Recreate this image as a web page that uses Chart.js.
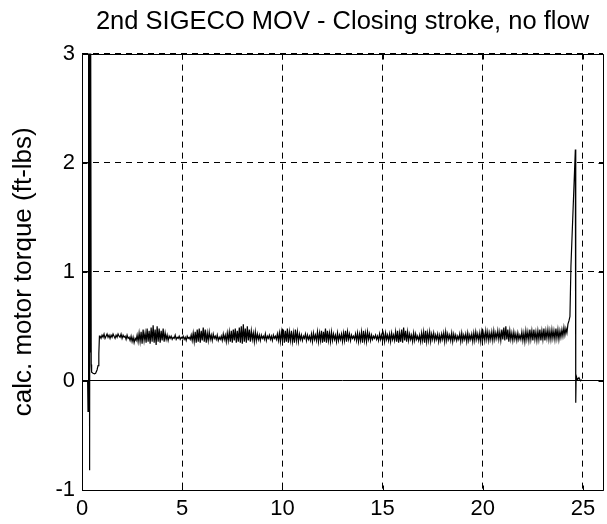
<!DOCTYPE html>
<html>
<head>
<meta charset="utf-8">
<script src="https://cdn.jsdelivr.net/npm/chart.js@4/dist/chart.umd.min.js"></script>
<style>
    html, body { margin: 0; padding: 0; background: #fff; }
    #wrap { width: 607px; height: 524px; }
</style>
</head>
<body>
<div id="wrap"><canvas id="torque" width="607" height="524"></canvas></div>
<script>
// ───── DATA ─────
const TITULO  = "2nd SIGECO MOV - Closing stroke, no flow";
const Y_LABEL = "calc. motor torque (ft-lbs)";
const X_TICKS = [0, 5, 10, 15, 20, 25];
const Y_TICKS = [-1, 0, 1, 2, 3];

// start-up transient (x in s, torque in ft-lbs; 3.6 = runs off the top)
const inicioX = [0.00, 0.28, 0.30, 0.32, 0.34, 0.36, 0.38, 0.40, 0.42, 0.44, 0.46, 0.48, 0.55, 0.62, 0.68, 0.75, 0.80, 0.84, 0.87];
const inicioY = [0.00, 0.00, -0.28, 3.6, -0.10, 3.6, -0.82, 3.6, 0.26, 3.6, 0.15, 0.08, 0.07, 0.065, 0.07, 0.10, 0.14, 0.25, 0.41];

// running load, sampled every 0.05 s from 0.9 s to 24.3 s (one row = 0.5 s)
const corridaX0   = 0.9;
const corridaPaso = 0.05;
const corridaY = [
    0.41, 0.39, 0.42, 0.40, 0.43, 0.39, 0.41, 0.43, 0.40, 0.42,   // 0.9
    0.39, 0.42, 0.40, 0.43, 0.41, 0.39, 0.42, 0.40, 0.43, 0.41,   // 1.4
    0.40, 0.43, 0.39, 0.42, 0.40, 0.41, 0.38, 0.42, 0.39, 0.40,   // 1.9
    0.37, 0.41, 0.36, 0.40, 0.35, 0.39, 0.37, 0.42, 0.36, 0.44,   // 2.4
    0.36, 0.45, 0.34, 0.47, 0.37, 0.44, 0.35, 0.48, 0.36, 0.46,   // 2.9
    0.34, 0.49, 0.36, 0.51, 0.35, 0.47, 0.33, 0.50, 0.36, 0.48,   // 3.4
    0.35, 0.46, 0.37, 0.48, 0.36, 0.44, 0.38, 0.42, 0.37, 0.41,   // 3.9
    0.39, 0.41, 0.38, 0.40, 0.39, 0.42, 0.38, 0.40, 0.39, 0.41,   // 4.4
    0.38, 0.40, 0.39, 0.41, 0.38, 0.40, 0.37, 0.41, 0.39, 0.40,   // 4.9
    0.38, 0.42, 0.37, 0.44, 0.36, 0.45, 0.35, 0.47, 0.36, 0.48,   // 5.4
    0.35, 0.46, 0.37, 0.49, 0.36, 0.47, 0.35, 0.44, 0.37, 0.45,   // 5.9
    0.38, 0.42, 0.37, 0.43, 0.39, 0.41, 0.38, 0.42, 0.37, 0.40,   // 6.4
    0.38, 0.41, 0.37, 0.43, 0.38, 0.42, 0.36, 0.44, 0.37, 0.45,   // 6.9
    0.36, 0.46, 0.35, 0.47, 0.37, 0.48, 0.35, 0.46, 0.36, 0.49,   // 7.4
    0.35, 0.50, 0.34, 0.52, 0.36, 0.48, 0.35, 0.50, 0.37, 0.47,   // 7.9
    0.36, 0.46, 0.38, 0.44, 0.36, 0.45, 0.37, 0.43, 0.38, 0.42,   // 8.4
    0.37, 0.42, 0.39, 0.41, 0.38, 0.43, 0.37, 0.41, 0.39, 0.42,   // 8.9
    0.38, 0.41, 0.37, 0.42, 0.39, 0.41, 0.38, 0.43, 0.37, 0.44,   // 9.4
    0.36, 0.45, 0.37, 0.47, 0.35, 0.46, 0.36, 0.48, 0.35, 0.45,   // 9.9
    0.37, 0.46, 0.36, 0.44, 0.35, 0.47, 0.37, 0.45, 0.36, 0.43,   // 10.4
    0.38, 0.42, 0.37, 0.41, 0.39, 0.43, 0.37, 0.42, 0.38, 0.41,   // 10.9
    0.37, 0.43, 0.36, 0.44, 0.38, 0.42, 0.37, 0.45, 0.36, 0.44,   // 11.4
    0.37, 0.46, 0.35, 0.45, 0.36, 0.48, 0.35, 0.46, 0.37, 0.44,   // 11.9
    0.36, 0.45, 0.37, 0.43, 0.38, 0.42, 0.36, 0.44, 0.37, 0.42,   // 12.4
    0.38, 0.43, 0.36, 0.44, 0.37, 0.46, 0.36, 0.45, 0.38, 0.43,   // 12.9
    0.37, 0.42, 0.39, 0.41, 0.38, 0.43, 0.37, 0.44, 0.36, 0.43,   // 13.4
    0.37, 0.45, 0.35, 0.46, 0.37, 0.44, 0.36, 0.45, 0.38, 0.43,   // 13.9
    0.37, 0.42, 0.38, 0.41, 0.39, 0.42, 0.38, 0.41, 0.37, 0.43,   // 14.4
    0.38, 0.42, 0.37, 0.43, 0.36, 0.44, 0.38, 0.42, 0.37, 0.43,   // 14.9
    0.36, 0.44, 0.38, 0.42, 0.37, 0.45, 0.36, 0.46, 0.35, 0.44,   // 15.4
    0.36, 0.47, 0.35, 0.49, 0.37, 0.46, 0.36, 0.45, 0.37, 0.43,   // 15.9
    0.38, 0.42, 0.36, 0.44, 0.37, 0.43, 0.38, 0.41, 0.37, 0.42,   // 16.4
    0.36, 0.44, 0.37, 0.45, 0.35, 0.46, 0.36, 0.44, 0.37, 0.45,   // 16.9
    0.36, 0.43, 0.38, 0.44, 0.37, 0.42, 0.38, 0.43, 0.36, 0.42,   // 17.4
    0.37, 0.43, 0.38, 0.44, 0.36, 0.45, 0.37, 0.43, 0.38, 0.42,   // 17.9
    0.37, 0.44, 0.36, 0.43, 0.38, 0.42, 0.37, 0.41, 0.38, 0.43,   // 18.4
    0.36, 0.44, 0.37, 0.42, 0.38, 0.43, 0.36, 0.44, 0.37, 0.42,   // 18.9
    0.38, 0.43, 0.36, 0.44, 0.37, 0.45, 0.38, 0.43, 0.37, 0.44,   // 19.4
    0.36, 0.45, 0.38, 0.44, 0.37, 0.46, 0.38, 0.45, 0.37, 0.44,   // 19.9
    0.38, 0.45, 0.37, 0.46, 0.38, 0.44, 0.39, 0.46, 0.38, 0.45,   // 20.4
    0.37, 0.47, 0.38, 0.49, 0.37, 0.50, 0.38, 0.47, 0.36, 0.46,   // 20.9
    0.38, 0.44, 0.37, 0.45, 0.38, 0.43, 0.37, 0.44, 0.38, 0.42,   // 21.4
    0.38, 0.45, 0.37, 0.44, 0.36, 0.46, 0.38, 0.45, 0.37, 0.47,   // 21.9
    0.38, 0.46, 0.37, 0.47, 0.38, 0.45, 0.37, 0.46, 0.38, 0.47,   // 22.4
    0.37, 0.46, 0.38, 0.48, 0.37, 0.46, 0.39, 0.47, 0.38, 0.46,   // 22.9
    0.38, 0.47, 0.39, 0.46, 0.38, 0.48, 0.39, 0.47, 0.38, 0.46,   // 23.4
    0.40, 0.47, 0.41, 0.49, 0.42, 0.48, 0.44, 0.52, 0.55          // 23.9
];

// seating spike at end of stroke
const fimX = [24.35, 24.40, 24.62, 24.64, 24.66, 24.72, 24.80, 24.88, 24.95];
const fimY = [0.59, 1.05, 2.12, -0.20, 0.05, 0.01, 0.03, 0.00, 0.01];

const FONTE = "Arial, 'Liberation Sans', Helvetica, sans-serif";

function _pontos() {
    const pts = [];
    inicioX.forEach((x, i) => pts.push({ x, y: inicioY[i] }));
    corridaY.forEach((y, i) => pts.push({ x: +(corridaX0 + i * corridaPaso).toFixed(3), y }));
    fimX.forEach((x, i) => pts.push({ x, y: fimY[i] }));
    return pts;
}

// MATLAB-style box with inward ticks on all four sides
const caixaPlugin = {
    id: "caixa",
    afterDraw(chart) {
        const { ctx, chartArea: a, scales: { x, y } } = chart;
        const L = Math.round(a.left) + 0.5, R = Math.round(a.right) + 0.5;
        const T = Math.round(a.top) + 0.5,  B = Math.round(a.bottom) + 0.5;
        const tk = 5;
        ctx.save();
        ctx.strokeStyle = "#000";
        ctx.lineWidth = 1;
        ctx.setLineDash([]);
        ctx.beginPath();
        ctx.rect(L, T, R - L, B - T);
        X_TICKS.forEach(v => {
            const px = Math.round(x.getPixelForValue(v)) + 0.5;
            ctx.moveTo(px, B); ctx.lineTo(px, B - tk);
            ctx.moveTo(px, T); ctx.lineTo(px, T + tk);
        });
        Y_TICKS.forEach(v => {
            const py = Math.round(y.getPixelForValue(v)) + 0.5;
            ctx.moveTo(L, py); ctx.lineTo(L + tk, py);
            ctx.moveTo(R, py); ctx.lineTo(R - tk, py);
        });
        ctx.stroke();
        ctx.restore();
    }
};

new Chart(document.getElementById("torque").getContext("2d"), {
    type: "line",
    data: {
        datasets: [{
            data: _pontos(),
            borderColor: "#000",
            borderWidth: 1.2,
            pointRadius: 0,
            tension: 0,
            fill: false,
        }]
    },
    options: {
        responsive: false,
        animation: false,
        events: [],
        layout: { padding: { left: 0, right: 4, top: 0, bottom: 0 } },
        plugins: {
            legend: { display: false },
            tooltip: { enabled: false },
            title: {
                display: true, text: TITULO, fullSize: false,
                color: "#000", font: { family: FONTE, size: 25.5, weight: "normal", lineHeight: 1.2 },
                padding: { top: 7, bottom: 16 }
            }
        },
        scales: {
            x: {
                type: "linear", min: 0, max: 26,
                afterBuildTicks: s => { s.ticks = X_TICKS.map(v => ({ value: v })); },
                afterFit: s => { s.height = 34; },
                grid: { color: ctx => (ctx.tick && (ctx.tick.value === 0) ? "rgba(0,0,0,0)" : "#000"), lineWidth: 1, drawTicks: false },
                border: { display: false, dash: [6, 5] },
                ticks: { color: "#000", padding: 6, maxRotation: 0, font: { family: FONTE, size: 22 } }
            },
            y: {
                type: "linear", min: -1, max: 3,
                afterBuildTicks: s => { s.ticks = Y_TICKS.map(v => ({ value: v })); },
                afterFit: s => { s.width = 82; },
                grid: { color: "#000", lineWidth: 1, drawTicks: false },
                border: { display: false, dash: ctx => (ctx.tick && ctx.tick.value === 0 ? [] : [6, 5]) },
                ticks: { color: "#000", padding: 7, font: { family: FONTE, size: 22 } },
                title: {
                    display: true, text: Y_LABEL, color: "#000",
                    font: { family: FONTE, size: 26, weight: "normal", lineHeight: 1.2 },
                    padding: { top: 8, bottom: 0 }
                }
            }
        }
    },
    plugins: [caixaPlugin]
});
</script>
</body>
</html>
